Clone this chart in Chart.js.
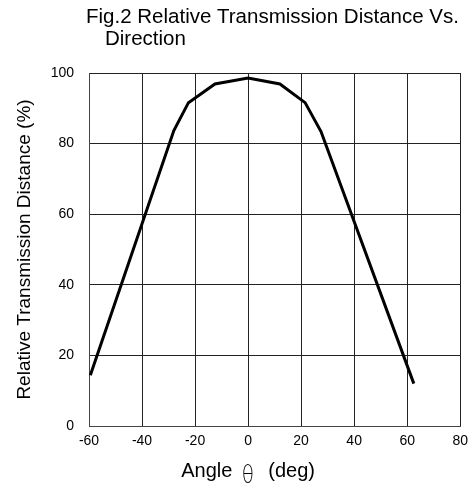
<!DOCTYPE html>
<html>
<head>
<meta charset="utf-8">
<script src="https://cdn.jsdelivr.net/npm/chart.js@4/dist/chart.umd.min.js"></script>
<style>
  html, body { margin: 0; padding: 0; background: #fff; }
  #wrap { width: 475px; height: 487px; position: relative; }
</style>
</head>
<body>
<div id="wrap"><canvas id="chart1"></canvas></div>
<script>
// angle (deg) vs relative transmission distance (%)
const angles = [-59.5, -28, -22.5, -12.5, 0, 12, 21.5, 27.5, 62.5];
const distances = [14.4, 83.7, 91.6, 96.9, 98.6, 96.9, 91.6, 83.4, 12];
const xTicks = [-60, -40, -20, 0, 20, 40, 60, 80];
const yTicks = [0, 20, 40, 60, 80, 100];
const titleLines = ['Fig.2 Relative Transmission Distance Vs.', 'Direction'];
const xTitleParts = ['Angle', '\u03B8', '(deg)'];
const yTitle = 'Relative Transmission Distance (%)';

const FONT = "'Liberation Sans', Arial, sans-serif";

// title lines and x axis title drawn by hand
const textPlugin = {
  id: 'texts',
  afterDraw(chart) {
    const ctx = chart.ctx;
    ctx.save();
    ctx.fillStyle = '#000';
    ctx.textBaseline = 'alphabetic';
    ctx.textAlign = 'left';
    ctx.font = '20.5px ' + FONT;
    ctx.fillText(titleLines[0], 86, 23);
    ctx.fillText(titleLines[1], 105, 45);

    // "Angle θ (deg)" centred under x = 0
    const x0 = chart.scales.x.getPixelForValue(0);
    ctx.font = '20px ' + FONT;
    const w1 = ctx.measureText(xTitleParts[0]).width;
    const w3 = ctx.measureText(xTitleParts[2]).width;
    const gap1 = 9, gap2 = 14, thetaW = 13;
    let x = x0 - (w1 + gap1 + thetaW + gap2 + w3) / 2;
    ctx.fillText(xTitleParts[0], x, 477);
    x += w1 + gap1;
    ctx.save();
    ctx.font = '200 25px "DejaVu Sans", sans-serif';
    ctx.translate(x + thetaW / 2, 483);
    ctx.scale(0.8, 1);
    ctx.textAlign = 'center';
    ctx.fillText(xTitleParts[1], 0, 0);
    ctx.restore();
    x += thetaW + gap2;
    ctx.fillText(xTitleParts[2], x, 477);
    ctx.restore();
  }
};

const data1 = {
  datasets: [{
    data: angles.map((a, i) => ({ x: a, y: distances[i] })),
    borderColor: '#000',
    borderWidth: 3,
    pointRadius: 0,
    tension: 0,
    fill: false
  }]
};

const config1 = {
  type: 'line',
  data: data1,
  options: {
    responsive: true,
    maintainAspectRatio: false,
    animation: false,
    layout: { padding: { top: 73, right: 14, left: 0, bottom: 0 } },
    plugins: { legend: { display: false }, tooltip: { enabled: false } },
    scales: {
      x: {
        type: 'linear',
        min: -60,
        max: 80,
        afterBuildTicks: (s) => { s.ticks = xTicks.map(v => ({ value: v })); },
        afterFit: (s) => { s.height = 61; },
        ticks: { color: '#000', font: { family: FONT, size: 14 }, padding: 7, maxRotation: 0 },
        grid: { color: '#222', lineWidth: 1, drawTicks: false },
        border: { color: '#444', width: 1 }
      },
      y: {
        min: 0,
        max: 100,
        afterBuildTicks: (s) => { s.ticks = yTicks.map(v => ({ value: v })); },
        afterFit: (s) => { s.width = 89; },
        ticks: { color: '#000', font: { family: FONT, size: 14 }, padding: 15 },
        grid: { color: '#222', lineWidth: 1, drawTicks: false },
        border: { color: '#444', width: 1 },
        title: { display: true, text: yTitle, color: '#000', font: { family: FONT, size: 19 }, padding: { top: 13, bottom: 0 } }
      }
    }
  },
  plugins: [textPlugin]
};

var ctx1 = document.getElementById('chart1').getContext('2d');
var myChart1 = new Chart(ctx1, config1);
</script>
</body>
</html>
